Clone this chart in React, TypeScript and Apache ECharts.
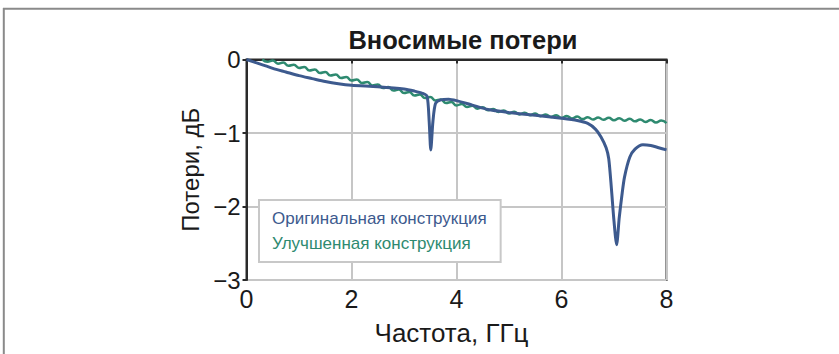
import React, { useEffect, useRef } from "react";
import * as echarts from "echarts";

const title = "Вносимые потери";
const xName = "Частота, ГГц";
const yName = "Потери, дБ";
const seriesNames = ["Оригинальная конструкция", "Улучшенная конструкция"];

// Original design: [GHz, dB]
const originalX = [0, 0.25, 0.5, 0.75, 1.0, 1.25, 1.5, 1.75, 2.0, 2.5, 3.0, 3.2, 3.35, 3.44, 3.48, 3.51, 3.55, 3.6, 3.7, 3.85, 4.0, 4.3, 4.6, 5.0, 5.5, 6.0, 6.3, 6.5, 6.65, 6.75, 6.85, 6.9, 6.95, 7.0, 7.05, 7.1, 7.15, 7.2, 7.3, 7.4, 7.55, 7.7, 7.85, 8.0];
const originalY = [0, -0.06, -0.12, -0.17, -0.22, -0.26, -0.3, -0.33, -0.35, -0.37, -0.4, -0.43, -0.46, -0.5, -0.85, -1.23, -0.85, -0.6, -0.55, -0.54, -0.56, -0.62, -0.68, -0.72, -0.76, -0.8, -0.83, -0.87, -0.95, -1.05, -1.2, -1.35, -1.75, -2.2, -2.52, -2.15, -1.85, -1.6, -1.33, -1.22, -1.16, -1.17, -1.2, -1.23];

// Improved design: [GHz, dB] (small ripple)
const improvedX = [0.3, 0.4, 0.5, 0.6, 0.7, 0.8, 0.9, 1.0, 1.1, 1.2, 1.3, 1.4, 1.5, 1.6, 1.7, 1.8, 1.9, 2.0, 2.1, 2.2, 2.3, 2.4, 2.5, 2.6, 2.7, 2.8, 2.9, 3.0, 3.1, 3.2, 3.3, 3.4, 3.5, 3.6, 3.7, 3.8, 3.9, 4.0, 4.1, 4.2, 4.3, 4.4, 4.5, 4.6, 4.7, 4.8, 4.9, 5.0, 5.1, 5.2, 5.3, 5.4, 5.5, 5.6, 5.7, 5.8, 5.9, 6.0, 6.1, 6.2, 6.3, 6.4, 6.5, 6.6, 6.7, 6.8, 6.9, 7.0, 7.1, 7.2, 7.3, 7.4, 7.5, 7.6, 7.7, 7.8, 7.9, 8.0];
const improvedY = [0.0, -0.03, -0.013, -0.058, -0.042, -0.086, -0.071, -0.115, -0.102, -0.149, -0.136, -0.183, -0.17, -0.217, -0.204, -0.251, -0.238, -0.285, -0.272, -0.319, -0.306, -0.353, -0.34, -0.387, -0.374, -0.421, -0.408, -0.455, -0.442, -0.489, -0.476, -0.523, -0.51, -0.557, -0.544, -0.591, -0.578, -0.625, -0.606, -0.647, -0.628, -0.669, -0.65, -0.691, -0.672, -0.713, -0.694, -0.735, -0.711, -0.747, -0.723, -0.759, -0.735, -0.771, -0.747, -0.783, -0.759, -0.795, -0.769, -0.803, -0.777, -0.811, -0.785, -0.817, -0.789, -0.821, -0.793, -0.825, -0.799, -0.833, -0.807, -0.841, -0.815, -0.849, -0.823, -0.857, -0.831, -0.865];

const blue = "#3d5a8e";
const green = "#2e8a70";

export default function App() {
  const ref = useRef<HTMLDivElement>(null);
  useEffect(() => {
    const chart = echarts.init(ref.current!, undefined, { renderer: "svg" });
    const font = "Liberation Sans";
    chart.setOption({
      animation: false,
      backgroundColor: "#ffffff",
      title: {
        text: title,
        left: 458,
        textAlign: "center",
        top: 22,
        textStyle: { fontFamily: font, fontSize: 25.5, fontWeight: "bold", color: "#1a1a1a" },
      },
      grid: {
        left: 246.5,
        right: 172.5,
        top: 59.5,
        bottom: 74,
        show: true,
        borderColor: "#2a2a2a",
        borderWidth: 2,
      },
      legend: {
        orient: "vertical",
        left: 259,
        top: 200,
        width: 241,
        itemWidth: 0,
        itemHeight: 0,
        itemGap: 8,
        padding: [10, 14, 10, 8],
        backgroundColor: "#ffffff",
        borderColor: "#c8c8c8",
        borderWidth: 2,
        data: [
          { name: seriesNames[0], icon: "none", textStyle: { color: blue } },
          { name: seriesNames[1], icon: "none", textStyle: { color: green } },
        ],
        textStyle: { fontFamily: font, fontSize: 17 },
      },
      xAxis: {
        type: "value",
        min: 0,
        max: 8,
        interval: 2,
        name: xName,
        nameLocation: "middle",
        nameGap: 40,
        nameTextStyle: { fontFamily: font, fontSize: 26, color: "#1a1a1a", padding: [0, 10, 0, 0] },
        axisLine: { show: true, lineStyle: { color: "#2a2a2a", width: 2 } },
        axisTick: { show: true, length: 4, lineStyle: { color: "#2a2a2a", width: 2 } },
        axisLabel: { fontFamily: font, fontSize: 25, color: "#1a1a1a", margin: 6 },
        splitLine: { show: true, lineStyle: { color: "#c6c6c6", width: 2 } },
      },
      yAxis: {
        type: "value",
        min: -3,
        max: 0,
        interval: 1,
        name: yName,
        nameLocation: "middle",
        nameGap: 42,
        nameTextStyle: { fontFamily: font, fontSize: 24, color: "#1a1a1a" },
        axisLine: { show: true, lineStyle: { color: "#2a2a2a", width: 2 } },
        axisTick: { show: true, length: 4, lineStyle: { color: "#2a2a2a", width: 2 } },
        axisLabel: {
          fontFamily: font,
          fontSize: 24,
          color: "#1a1a1a",
          margin: 6,
          formatter: (v: number) => String(v).replace("-", "\u2212"),
        },
        splitLine: { show: true, lineStyle: { color: "#c6c6c6", width: 2 } },
      },
      series: [
        {
          name: seriesNames[0],
          type: "line",
          showSymbol: false,
          smooth: 0.25,
          data: originalX.map((x, i) => [x, originalY[i]]),
          lineStyle: { color: blue, width: 3 },
          itemStyle: { color: blue },
          z: 3,
        },
        {
          name: seriesNames[1],
          type: "line",
          showSymbol: false,
          smooth: 0.5,
          data: improvedX.map((x, i) => [x, improvedY[i]]),
          lineStyle: { color: green, width: 2.5 },
          itemStyle: { color: green },
          z: 2,
        },
      ],
      graphic: [
        { type: "line", shape: { x1: 3, y1: 8.7, x2: 839, y2: 8.7 }, style: { stroke: "#8a8a8a", lineWidth: 2 }, silent: true },
        { type: "line", shape: { x1: 3.8, y1: 8, x2: 3.8, y2: 354 }, style: { stroke: "#8a8a8a", lineWidth: 2 }, silent: true },
      ],
    });
    return () => chart.dispose();
  }, []);
  return (
    <div
      ref={ref}
      style={{ position: "absolute", left: 0, top: 0, width: 839, height: 354 }}
    />
  );
}
